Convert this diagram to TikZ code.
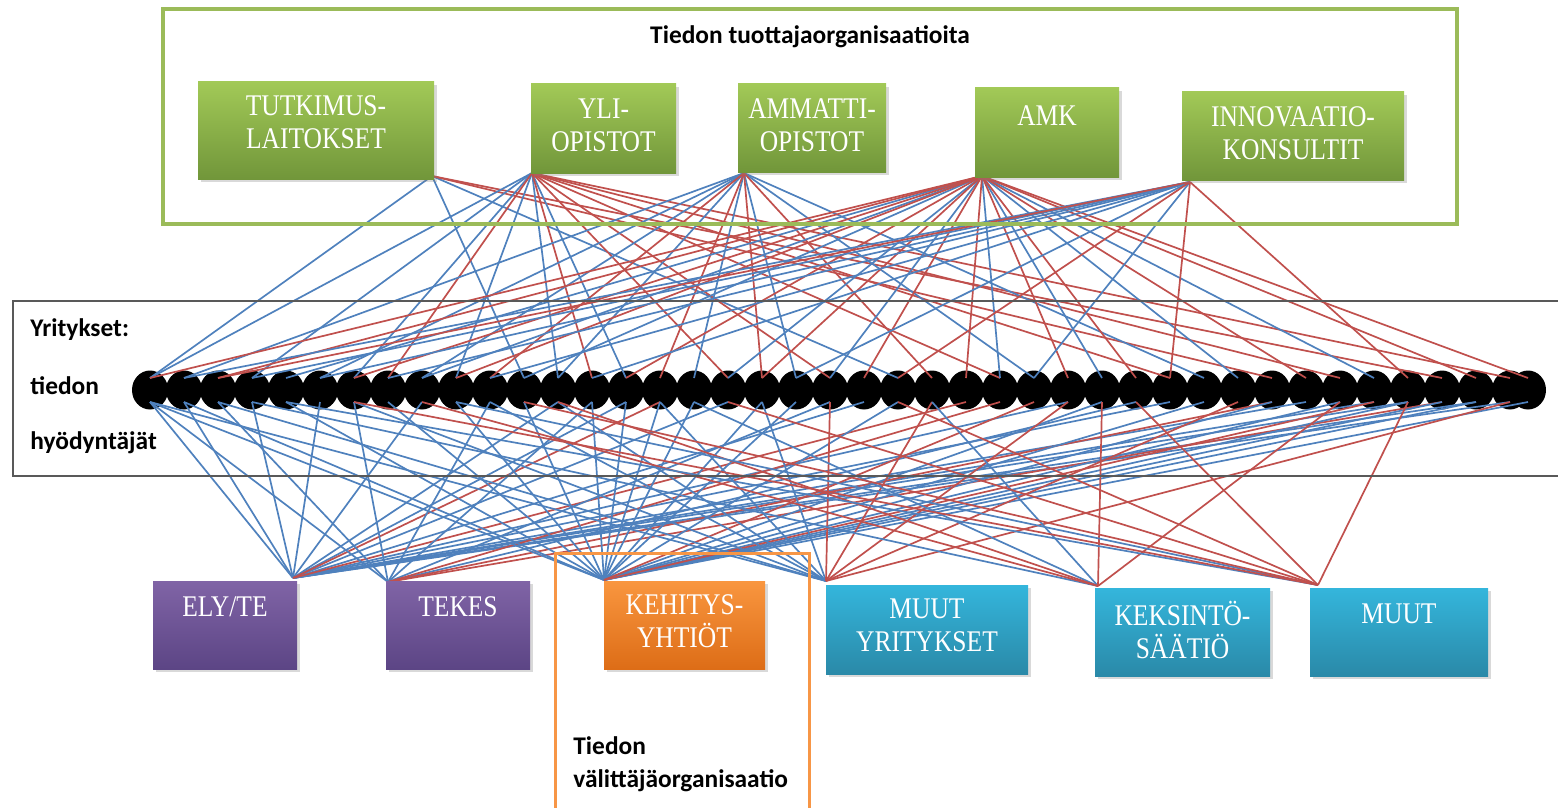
\documentclass[tikz,border=0pt]{standalone}
\usepackage{fontspec}
\setmainfont{Carlito}
\newfontfamily\boxfont[FakeStretch=0.85]{Liberation Serif}
\usetikzlibrary{shapes.geometric,shadows,positioning,calc}
\definecolor{LB}{HTML}{4F81BD}
\definecolor{LR}{HTML}{C0504D}
\definecolor{GF}{HTML}{9BBB59}
\definecolor{GT}{HTML}{A2C957}
\definecolor{GB}{HTML}{71963A}
\definecolor{PT}{HTML}{8064A6}
\definecolor{PB}{HTML}{5C4585}
\definecolor{OT}{HTML}{F9963F}
\definecolor{OB}{HTML}{DD6D17}
\definecolor{CT}{HTML}{34B6DC}
\definecolor{CB}{HTML}{2A89A8}
\definecolor{OF}{HTML}{F79646}

\tikzset{
  abox/.style={rectangle, inner sep=0pt, draw=none,
    drop shadow={shadow xshift=1.5pt, shadow yshift=-1.5pt, opacity=.3}},
  gbox/.style={abox, top color=GT, bottom color=GB},
  pbox/.style={abox, top color=PT, bottom color=PB},
  obox/.style={abox, top color=OT, bottom color=OB},
  cbox/.style={abox, top color=CT, bottom color=CB},
  btxt/.style={white, align=center, inner sep=0pt,
    font=\boxfont\fontsize{15}{16.5}\selectfont},
  lbl/.style={inner sep=0pt, font=\bfseries\fontsize{12.7}{14}\selectfont},
  ydot/.style={ellipse, fill=black, inner sep=0pt,
    minimum width=18pt, minimum height=19.5pt},
  bl/.style={LB, line width=0.85pt},
  rl/.style={LR, line width=0.85pt}
}

\begin{document}
\begin{tikzpicture}[x=0.5pt, y=-0.5pt]
  \useasboundingbox (0,0) rectangle (1558,808);

  % yritykset
  \foreach \i in {0,...,40}
    \node[ydot] (d\i) at (150+34*\i,390) {};
  \node[ydot] (d41) at (1528,390) {};

  % hubs
  \coordinate (t1) at (432,176);
  \coordinate (t2) at (532,173);
  \coordinate (t3) at (744,173);
  \coordinate (t4) at (982,176);
  \coordinate (t5) at (1190,182);
  \coordinate (b1) at (293,578);
  \coordinate (b2) at (388,582);
  \coordinate (b3) at (604,580);
  \coordinate (b4) at (826,581);
  \coordinate (b5) at (1098,586);
  \coordinate (b6) at (1318,585);

  % yhteydet ylos
  \foreach \h/\B/\R in {
      t1/{0,11,22}/{33,38},
      t2/{0,3,6,9,12,14}/{7,13,17,20,25,30,35,40},
      t3/{1,5,8,12,16,19,26,31}/{10,15,18,23},
      t4/{4,8,11,17,20,25,28,32,36}/{0,2,6,9,14,18,21,24,27,29,34,39,41},
      t5/{1,3,5,7,10,13,19,26}/{2,22,30,37}} {
    \foreach \i in \B \draw[bl] (\h) -- ([yshift=6pt]d\i.center);
    \foreach \i in \R \draw[rl] (\h) -- ([yshift=6pt]d\i.center);
  }
  % yhteydet alas
  \foreach \h/\B/\R in {
      b1/{0,1,3,5,8,12,14,17,21,27,30,34,36,37,39,40}/{15,24},
      b2/{0,2,6,10,13,20,29}/{25,33,38},
      b3/{0,1,4,7,9,11,13,14,15,16,18,19,22,28,31,33,35,37,38,39,41}/{26,36},
      b4/{0,2,6,10,12,15,18}/{20,23,27,32,40},
      b5/{3,16,23}/{8,12,28,35},
      b6/{4,9}/{6,11,17,22,29,37}} {
    \foreach \i in \B \draw[bl] (\h) -- ([yshift=-6pt]d\i.center);
    \foreach \i in \R \draw[rl] (\h) -- ([yshift=-6pt]d\i.center);
  }

  % kehykset
  \draw[GF, line width=2pt] (163,9) rectangle (1457,224);
  \draw[black!65, line width=1pt] (1562,301) -- (13,301) -- (13,476) -- (1562,476);
  \draw[OF, line width=1.5pt] (555,812) -- (555,553) -- (809,553) -- (809,812);

  \node[lbl] (title) at (810,37) {Tiedon tuottajaorganisaatioita};
  \node[lbl, anchor=west] (yr1) at (30,330) {Yritykset:};
  \node[lbl, anchor=west] (yr2) at (30,386) {tiedon};
  \node[lbl, anchor=west] (yr3) at (30,443) {hyödyntäjät};
  \node[lbl, anchor=west] (va1) at (573,746) {Tiedon};
  \node[lbl, anchor=west] (va2) at (573,781) {välittäjäorganisaatio};

  % tuottajat
  \node[gbox, minimum width=118pt, minimum height=48.5pt] (tutk) at (316,130.5) {};
  \node[gbox, minimum width=72.5pt, minimum height=44.5pt] (yli) at (603.5,128.5) {};
  \node[gbox, minimum width=74pt, minimum height=44pt] (amm) at (812,128) {};
  \node[gbox, minimum width=72pt, minimum height=44.5pt] (amk) at (1047,132.5) {};
  \node[gbox, minimum width=111pt, minimum height=44pt] (inno) at (1293,136) {};
  \node[btxt] (tutkT) at (316,122.5) {TUTKIMUS-\\LAITOKSET};
  \node[btxt] (yliT) at (603.5,125) {YLI-\\OPISTOT};
  \node[btxt] (ammT) at (812,125) {AMMATTI-\\OPISTOT};
  \node[btxt] (amkT) at (1047,116) {AMK};
  \node[btxt] (innoT) at (1293,133) {INNOVAATIO-\\KONSULTIT};

  % valittajat
  \node[pbox, minimum width=72pt, minimum height=44pt] (ely) at (225,625) {};
  \node[pbox, minimum width=72pt, minimum height=44pt] (tekes) at (458,625) {};
  \node[obox, minimum width=80.5pt, minimum height=44pt] (keh) at (684.5,625) {};
  \node[cbox, minimum width=101pt, minimum height=44.5pt] (muuty) at (927,629.5) {};
  \node[cbox, minimum width=87.5pt, minimum height=44pt] (keks) at (1182.5,632) {};
  \node[cbox, minimum width=89pt, minimum height=44pt] (muut) at (1399,632) {};
  \node[btxt] (elyT) at (225,607) {ELY/TE};
  \node[btxt] (tekesT) at (458,607) {TEKES};
  \node[btxt] (kehT) at (684.5,621.5) {KEHITYS-\\YHTIÖT};
  \node[btxt] (muutyT) at (927,625.5) {MUUT\\YRITYKSET};
  \node[btxt] (keksT) at (1182.5,629.5) {KEKSINTÖ-\\SÄÄTIÖ};
  \node[btxt] (muutT) at (1399,614) {MUUT};
\end{tikzpicture}
\end{document}
